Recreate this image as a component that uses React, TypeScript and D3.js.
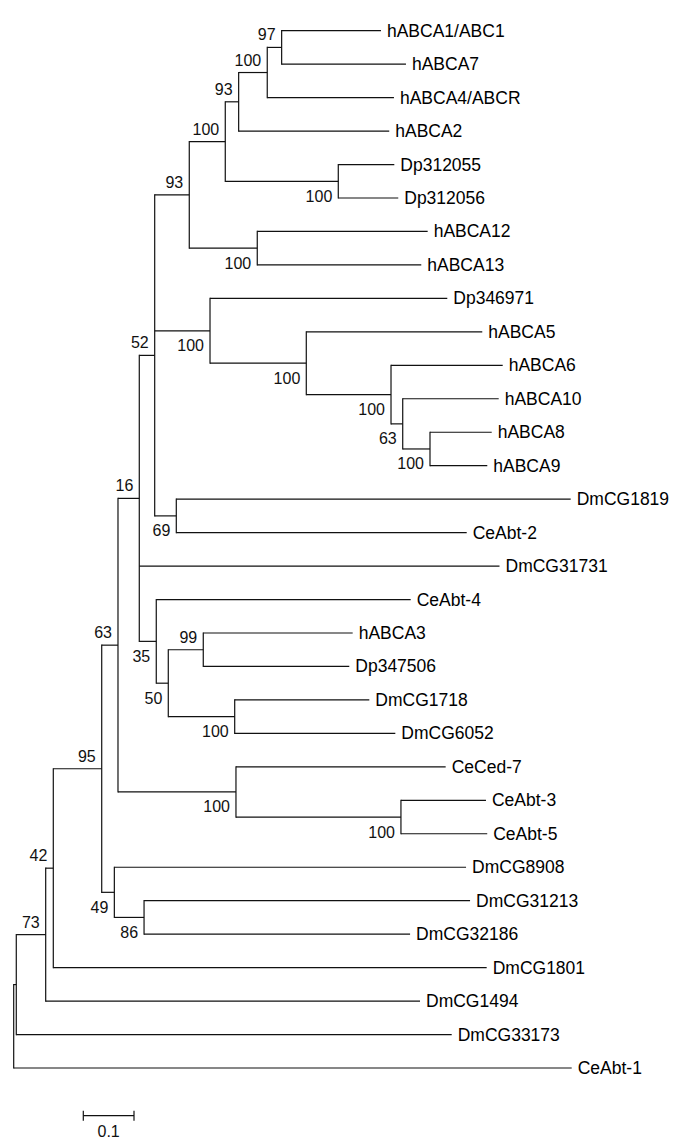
import React from "react";
import * as d3 from "d3";

// Newick tree (branch lengths in substitutions/site, internal labels = bootstrap values)
const NEWICK_PARTS: string[] = [
  "(((((((((((((",
  "hABCA1/ABC1:0.1959,hABCA7:0.2452)97:0.0284",
  ",hABCA4/ABCR:0.2499)100:0.0564",
  ",hABCA2:0.2970)93:0.0264",
  ",(Dp312055:0.1105,Dp312056:0.1183)100:0.2229)100:0.0710",
  ",(hABCA12:0.3361,hABCA13:0.3235)100:0.1341)93:0.0682",
  ",(Dp346971:0.4680,(hABCA5:0.3471,(hABCA6:0.2203,(hABCA10:0.1893,(hABCA8:0.1217,hABCA9:0.1130)100:0.0538)63:0.0231)100:0.1671)100:0.1899)100:0.1091",
  ",(DmCG1819:0.7779,CeAbt-2:0.5728)69:0.0426)52:0.0304",
  ",DmCG31731:0.7105",
  ",(CeAbt-4:0.5018,((hABCA3:0.2947,Dp347506:0.2880)99:0.0690,(DmCG1718:0.2655,DmCG6052:0.3168)100:0.1310)50:0.0237)35:0.0335)16:0.0420",
  ",(CeCed-7:0.4136,(CeAbt-3:0.1677,CeAbt-5:0.1702)100:0.3254)100:0.2327)63:0.0321",
  ",(DmCG8908:0.6937,(DmCG31213:0.6430,DmCG32186:0.5247)86:0.0586)49:0.0249)95:0.0955",
  ",DmCG1801:0.8548)42:0.0150",
  ",DmCG1494:0.7383)73:0.0580",
  ",DmCG33173:0.8588):0.0051",
  ",CeAbt-1:1.1006);",
];
const NEWICK = NEWICK_PARTS.join("");

const SCALE_BAR_VALUE = 0.1;
const SCALE_BAR_LABEL = "0.1";

type TNode = { name: string; length: number; children: TNode[] };

function parseNewick(s: string): TNode {
  let i = 0;
  function node(): TNode {
    const n: TNode = { name: "", length: 0, children: [] };
    if (s[i] === "(") {
      i++;
      n.children.push(node());
      while (s[i] === ",") {
        i++;
        n.children.push(node());
      }
      i++; // ')'
    }
    let name = "";
    while (i < s.length && !":,();".includes(s[i])) name += s[i++];
    n.name = name;
    if (s[i] === ":") {
      i++;
      let num = "";
      while (i < s.length && !",();".includes(s[i])) num += s[i++];
      n.length = +num;
    }
    return n;
  }
  return node();
}

export default function App() {
  const W = 685;
  const H = 1145;
  const tree = parseNewick(NEWICK);
  const root: any = d3.hierarchy<TNode>(tree, (d) => (d.children.length ? d.children : null));

  root.eachBefore((n: any) => {
    n.dist = (n.parent ? n.parent.dist : 0) + (n.parent ? n.data.length : 0);
  });

  const leaves = root.leaves();
  const x = d3.scaleLinear().domain([0, 1]).range([13.7, 520.7]);
  const y = d3.scaleLinear().domain([0, leaves.length - 1]).range([30.7, 1068]);

  leaves.forEach((l: any, i: number) => (l.yy = y(i)));
  root.eachAfter((n: any) => {
    if (n.children) {
      n.yy = (n.children[0].yy + n.children[n.children.length - 1].yy) / 2;
    }
  });

  const nodes: any[] = root.descendants();
  const stroke = "#111";
  const sw = 1.2;

  const barX0 = 83.3;
  const barLen = x(SCALE_BAR_VALUE) - x(0);
  const barY = 1115.7;

  return (
    <svg
      width={W}
      height={H}
      style={{ position: "absolute", left: 0, top: 0, background: "#fff" }}
      fontFamily="'Liberation Sans', Arial, sans-serif"
    >
      <rect x={0} y={0} width={W} height={H} fill="#fff" />
      {/* horizontal branches */}
      {nodes
        .filter((n) => n.parent)
        .map((n, i) => (
          <line
            key={"h" + i}
            x1={x(n.parent.dist)}
            x2={x(n.dist)}
            y1={n.yy}
            y2={n.yy}
            stroke={stroke}
            strokeWidth={sw}
          />
        ))}
      {/* vertical connectors */}
      {nodes
        .filter((n) => n.children)
        .map((n, i) => (
          <line
            key={"v" + i}
            x1={x(n.dist)}
            x2={x(n.dist)}
            y1={n.children[0].yy - sw / 2}
            y2={n.children[n.children.length - 1].yy + sw / 2}
            stroke={stroke}
            strokeWidth={sw}
          />
        ))}
      {/* leaf labels */}
      {leaves.map((l: any, i: number) => (
        <text key={"t" + i} x={x(l.dist) + 6} y={l.yy + 6} fontSize={17.5} fill="#000">
          {l.data.name}
        </text>
      ))}
      {/* bootstrap labels */}
      {nodes
        .filter((n) => n.children && n.data.name)
        .map((n, i) => {
          const isFirst = n.parent && n.parent.children[0] === n;
          return (
            <text
              key={"b" + i}
              x={x(n.dist) - 6}
              y={isFirst ? n.yy - 7 : n.yy + 20.5}
              fontSize={16}
              textAnchor="end"
              fill="#111"
            >
              {n.data.name}
            </text>
          );
        })}
      {/* scale bar */}
      <g stroke={stroke} strokeWidth={sw}>
        <line x1={barX0} x2={barX0 + barLen} y1={barY} y2={barY} />
        <line x1={barX0} x2={barX0} y1={barY - 5} y2={barY + 5} />
        <line x1={barX0 + barLen} x2={barX0 + barLen} y1={barY - 5} y2={barY + 5} />
      </g>
      <text x={barX0 + barLen / 2} y={1136.5} fontSize={16} textAnchor="middle" fill="#111">
        {SCALE_BAR_LABEL}
      </text>
    </svg>
  );
}
